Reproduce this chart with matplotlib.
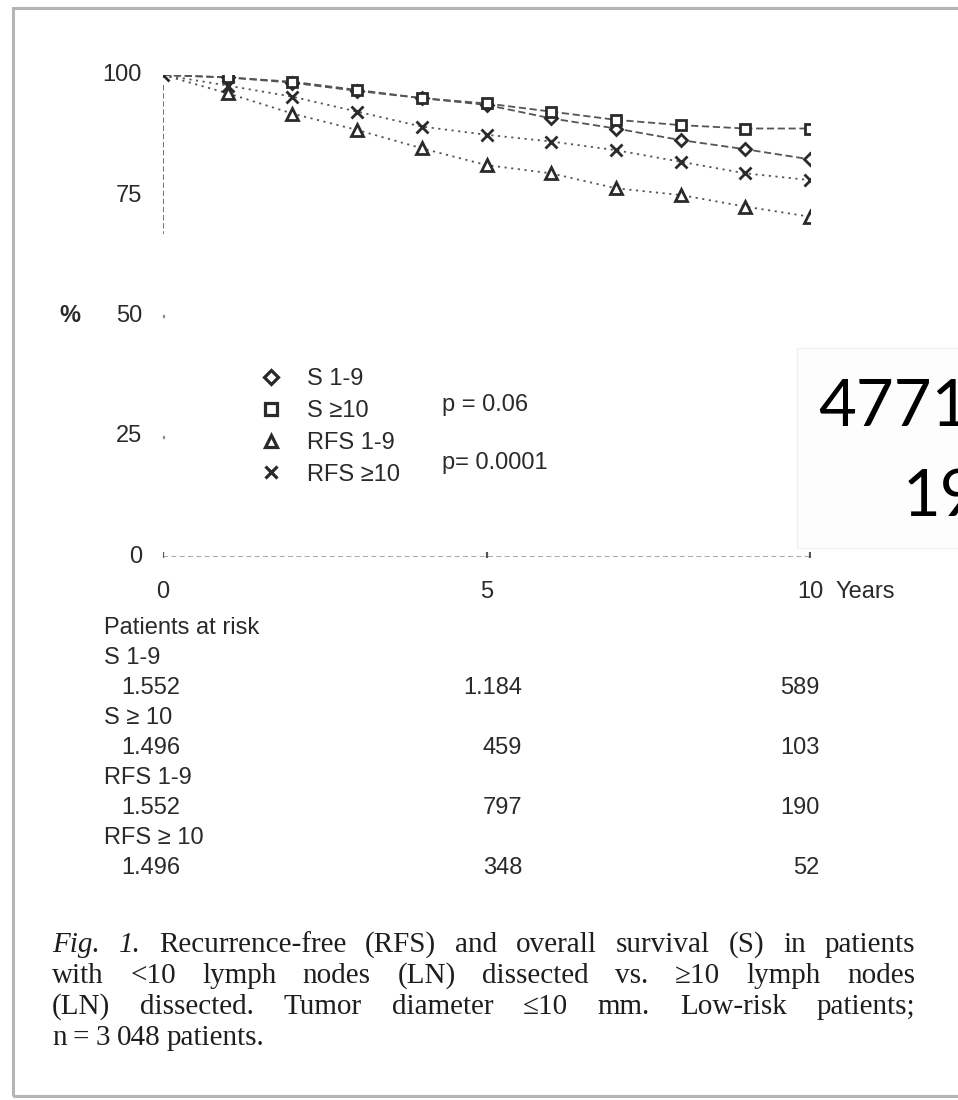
import matplotlib
matplotlib.use("Agg")
import matplotlib.pyplot as plt
from matplotlib.lines import Line2D
from matplotlib.patches import Rectangle

# survival curves (% alive / recurrence free)
years = [0, 1, 2, 3, 4, 5, 6, 7, 8, 9, 10]
s_1_9 = [100, 99.5, 98.4, 96.7, 95.2, 93.8, 91.0, 88.9, 86.5, 84.6, 82.5]
s_10 = [100, 99.5, 98.6, 96.9, 95.2, 94.1, 92.4, 90.7, 89.6, 88.9, 88.9]
rfs_1_9 = [100, 96.2, 92.0, 88.6, 84.8, 81.3, 79.6, 76.5, 75.1, 72.7, 70.6]
rfs_10 = [100, 97.8, 95.5, 92.4, 89.3, 87.6, 86.2, 84.4, 82.0, 79.6, 78.2]

yticks = [100, 75, 50, 25, 0]
xticks = [0, 5, 10]
labels = ["S 1-9", "S \u226510", "RFS 1-9", "RFS \u226510"]

# patients at risk table
risk_rows = ["S 1-9", "S \u2265 10", "RFS 1-9", "RFS \u2265 10"]
risk_0 = ["1.552", "1.496", "1.552", "1.496"]
risk_5 = ["1.184", "459", "797", "348"]
risk_10 = ["589", "103", "190", "52"]

caption = [
    "Recurrence-free (RFS) and overall survival (S) in patients",
    "with  <10 lymph nodes (LN) dissected vs.  \u226510 lymph nodes",
    "(LN) dissected. Tumor diameter  \u226410 mm. Low-risk patients;",
    "n = 3 048 patients.",
]

W, H = 958, 1100
def fx(x): return x / W
def fy(y): return 1 - y / H

plt.rcParams["font.family"] = ["Liberation Sans", "DejaVu Sans"]
ink = "#2a2a2a"
FS = 17

fig = plt.figure(figsize=(W / 100, H / 100), dpi=100)
fig.patch.set_facecolor("white")

# page frame of the scan
fig.patches.append(Rectangle((fx(13), fy(1096)), fx(960 - 13), (1096 - 8) / H,
                             transform=fig.transFigure, fill=False,
                             edgecolor="#b5b5b5", lw=2.2))

ax = fig.add_axes([fx(163), fy(557), 647 / W, 482 / H])
ax.set_xlim(0, 10)
ax.set_ylim(0, 100)
ax.axis("off")

styles = [
    (s_1_9, "D", (0, (4, 2)), 6.5),
    (s_10, "s", (0, (4, 2)), 7.5),
    (rfs_1_9, "^", (0, (1.2, 2.5)), 8),
    (rfs_10, "x", (0, (1.2, 2.5)), 8.5),
]
for vals, mk, ls, ms in styles:
    ax.plot(years, vals, color="#555555", lw=1.3, ls=ls, zorder=1)
    every = slice(0, None) if mk == "x" else slice(1, None)
    ax.plot(years, vals, ls="none", marker=mk, ms=ms, mfc="white",
            mec=ink, mew=2.0, markevery=every, zorder=3)

# y axis: short dashed stub under 100, then dots
ax.plot([0, 0], [98, 67], color="#666666", lw=1.3, ls=(0, (3, 1.5)), zorder=0)
ax.plot([0, 0], [50, 25], ls="none", marker=".", ms=3, color="#888888")
ax.plot([0, 10], [0, 0], color="#999999", lw=1.2, ls=(0, (3, 2)), zorder=0)
ax.plot([0, 5, 10], [0, 0, 0], ls="none", marker="|", ms=7, mew=1.6, color="#555555")

for v in yticks:
    ax.annotate(str(v), (0, v), xytext=(-21, 0), textcoords="offset pixels",
                ha="right", va="center", fontsize=FS, color=ink)
fig.text(fx(70), fy(315), "%", ha="center", va="center", fontsize=FS,
         weight="bold", color=ink)

xt = ax.get_xaxis_transform()
for v in xticks:
    ax.text(v, -35 / 482, str(v), transform=xt, ha="center", va="center",
            fontsize=FS, color=ink)
ax.annotate("Years", (10, 0), xycoords=xt, xytext=(25, -35),
            textcoords="offset pixels", ha="left", va="center", fontsize=FS,
            color=ink)

handles = [Line2D([], [], ls="none", marker=mk, ms=ms * 1.1, mfc="white",
                  mec=ink, mew=2.3) for _, mk, _, ms in styles]
fig.legend(handles, labels, loc="upper left", bbox_to_anchor=(fx(262), fy(368)),
           frameon=False, fontsize=FS, handlelength=0.8, handletextpad=1.1,
           labelspacing=0.42, borderpad=0, borderaxespad=0, labelcolor=ink)
fig.text(fx(442), fy(405), "p = 0.06", va="center", fontsize=FS, color=ink)
fig.text(fx(442), fy(463), "p= 0.0001", va="center", fontsize=FS, color=ink)

# patients at risk
tx0 = 104
fig.text(fx(tx0), fy(628), "Patients at risk", va="center", fontsize=FS, color=ink)
for i, name in enumerate(risk_rows):
    y = 658 + i * 60
    ya = -(y + 30 - 557) / 482
    fig.text(fx(tx0), fy(y), name, va="center", fontsize=FS, color=ink)
    fig.text(fx(tx0 + 17), fy(y + 30), risk_0[i], va="center", fontsize=FS, color=ink)
    ax.text(5.55, ya, risk_5[i], transform=xt, ha="right", va="center",
            fontsize=FS, color=ink)
    ax.text(10.15, ya, risk_10[i], transform=xt, ha="right", va="center",
            fontsize=FS, color=ink)

# slide text partly hidden behind the figure
fig.patches.append(Rectangle((fx(797), fy(548)), fx(170), 200 / H,
                             transform=fig.transFigure, facecolor="#fdfdfd",
                             edgecolor="#f1f1f1", lw=1))
fig.text(fx(818), fy(407), "4771", va="center", ha="left", fontsize=47,
         family="Lato", color="black")
fig.text(fx(903), fy(498), "19", va="center", ha="left", fontsize=47,
         family="Lato", color="black")

# caption, justified like the journal column
renderer = fig.canvas.get_renderer()
SERIF = "Liberation Serif"
cx0, cx1 = 52, 915
full = ["Fig. 1. " + caption[0]] + caption[1:]
probe = [fig.text(0, 0, t, fontsize=16, family=SERIF) for t in full]
widest = max(p.get_window_extent(renderer).width for p in probe)
for p in probe:
    p.remove()
csize = min(16 * 0.97 * (cx1 - cx0) / widest, 21)

for li, line in enumerate(caption):
    y = fy(945 + li * 31)
    words = line.split()
    if li == 0:
        words = ["Fig.", "1."] + words
    arts = []
    for wi, w in enumerate(words):
        style = "italic" if (li == 0 and wi < 2) else "normal"
        arts.append(fig.text(0, y, w, va="center", ha="left", fontsize=csize,
                             family=SERIF, style=style, color="#1e1e1e"))
    widths = [a.get_window_extent(renderer).width for a in arts]
    if li == len(caption) - 1:
        gap = 0.3 * csize
    else:
        gap = ((cx1 - cx0) - sum(widths)) / (len(words) - 1)
    x = cx0
    for a, wdt in zip(arts, widths):
        a.set_x(fx(x))
        x += wdt + gap

fig.savefig("out.png", dpi=100, facecolor="white")
